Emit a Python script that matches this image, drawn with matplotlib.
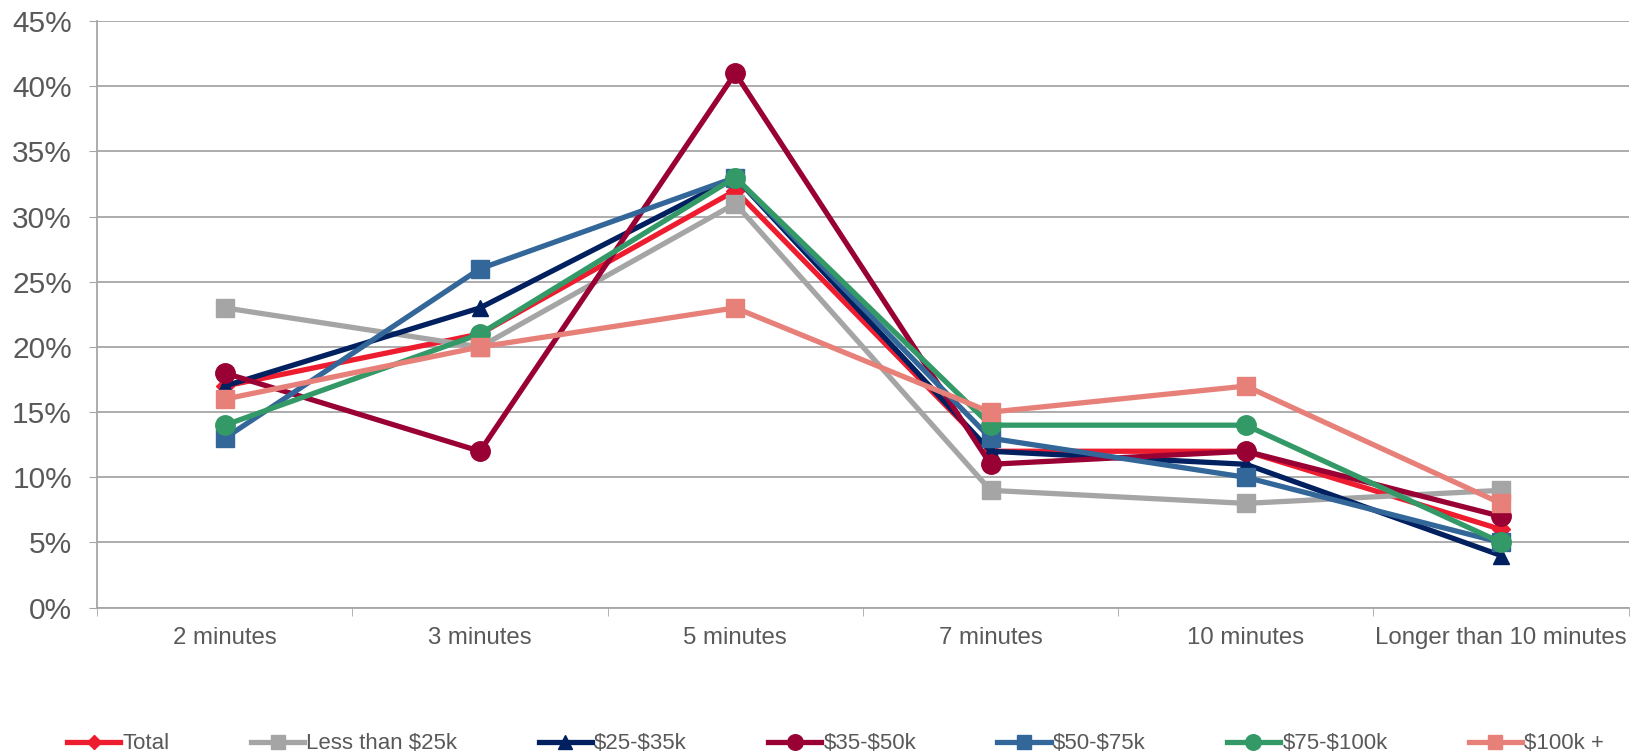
import matplotlib.pyplot as plt
import numpy as np

plt.rcParams['font.family'] = ['Liberation Sans', 'DejaVu Sans']
plt.rcParams['text.parse_math'] = False

categories = ['2 minutes', '3 minutes', '5 minutes', '7 minutes', '10 minutes', 'Longer than 10 minutes']

total = [17, 21, 32, 12, 12, 6]
less_25k = [23, 20, 31, 9, 8, 9]
k25_35 = [17, 23, 33, 12, 11, 4]
k35_50 = [18, 12, 41, 11, 12, 7]
k50_75 = [13, 26, 33, 13, 10, 5]
k75_100 = [14, 21, 33, 14, 14, 5]
k100_plus = [16, 20, 23, 15, 17, 8]

series = [
    ('Total', total, '#ED1C2E', 'D', 9),
    ('Less than $25k', less_25k, '#A5A5A5', 's', 13),
    ('$25-$35k', k25_35, '#002060', '^', 12),
    ('$35-$50k', k35_50, '#990033', 'o', 14),
    ('$50-$75k', k50_75, '#336699', 's', 13),
    ('$75-$100k', k75_100, '#339966', 'o', 14),
    ('$100k +', k100_plus, '#E8807A', 's', 13),
]

fig = plt.figure(figsize=(16.32, 7.53), dpi=100)
ax = fig.add_axes([0.0595, 0.193, 0.9385, 0.779])

x = np.arange(len(categories))
for name, vals, col, mk, ms in series:
    ax.plot(x, np.array(vals) / 100, color=col, lw=3.8, marker=mk, markersize=ms, label=name)

ax.set_xlim(-0.5, len(categories) - 0.5)
ax.set_ylim(0, 0.45)
ax.set_yticks(np.arange(0, 0.46, 0.05))
ax.set_yticklabels([f'{int(round(v * 100))}%' for v in np.arange(0, 0.46, 0.05)],
                   fontsize=21.5, color='#595959')
ax.set_xticks(x)
ax.set_xticklabels(categories, fontsize=17.3, color='#595959')
ax.set_xticks(np.arange(-0.5, len(categories)), minor=True)
ax.tick_params(axis='x', which='major', length=0, pad=14)
ax.tick_params(axis='x', which='minor', length=6, color='#A6A6A6')
ax.tick_params(axis='y', length=6, color='#A6A6A6', pad=12)

ax.grid(axis='y', color='#A6A6A6', lw=1.3)
ax.set_axisbelow(True)
for s in ['top', 'right']:
    ax.spines[s].set_visible(False)
for s in ['left', 'bottom']:
    ax.spines[s].set_color('#A6A6A6')
    ax.spines[s].set_linewidth(1.3)

leg = fig.legend(loc='center', bbox_to_anchor=(0.512, 0.012), ncol=7, frameon=False,
                 fontsize=16, handlelength=2.4, columnspacing=3.65, handletextpad=0.1,
                 markerscale=0.8, borderaxespad=0)
for t in leg.get_texts():
    t.set_color('#595959')

fig.savefig('out.png', dpi=100)
